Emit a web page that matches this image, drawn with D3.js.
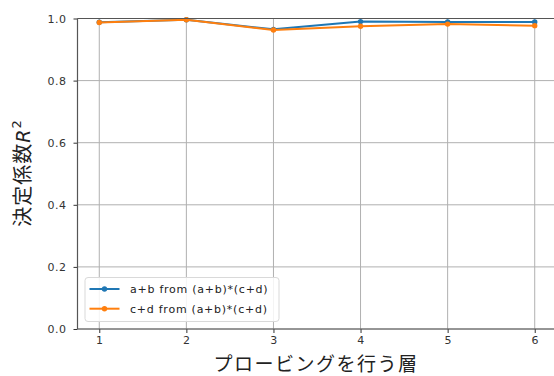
<!DOCTYPE html>
<html>
<head>
<meta charset="utf-8">
<script src="https://cdn.jsdelivr.net/npm/d3@7"></script>
<style>
  html, body { margin: 0; padding: 0; background: #fff; }
  svg { display: block; }
</style>
</head>
<body>
<svg id="chart" width="554" height="376"></svg>
<script>
// Probing layers and R^2 scores per target
const layers = [1, 2, 3, 4, 5, 6];
const seriesAB = [0.988, 0.996, 0.965, 0.990, 0.989, 0.989];
const seriesCD = [0.987, 0.996, 0.963, 0.975, 0.982, 0.977];
const seriesNames = ["a+b from (a+b)*(c+d)", "c+d from (a+b)*(c+d)"];
const seriesColors = ["#1f77b4", "#ff7f0e"];
const yTicks = [0.0, 0.2, 0.4, 0.6, 0.8, 1.0];
const xLabel = "プロービングを行う層";
const yLabel = "決定係数";

const svg = d3.select("#chart");
const margin = { left: 77.5, top: 18.5, bottom: 329 };
const plotRight = 556.5;

const x = d3.scaleLinear().domain([0.75, 6.25]).range([margin.left, plotRight]);
const y = d3.scaleLinear().domain([0, 1]).range([margin.bottom, margin.top]);

const tickFont = "DejaVu Sans, sans-serif";
const cjkFont = "'Noto Sans CJK JP', sans-serif";

// grid
const g = svg.append("g");
g.selectAll("line.vgrid").data(layers).enter().append("line")
  .attr("x1", d => x(d)).attr("x2", d => x(d))
  .attr("y1", margin.top).attr("y2", margin.bottom)
  .attr("stroke", "#b0b0b0").attr("stroke-width", 1);
g.selectAll("line.hgrid").data(yTicks).enter().append("line")
  .attr("x1", margin.left).attr("x2", plotRight)
  .attr("y1", d => y(d)).attr("y2", d => y(d))
  .attr("stroke", "#b0b0b0").attr("stroke-width", 1);

// series
const data = [seriesAB, seriesCD];
const line = d3.line().x((d, i) => x(layers[i])).y(d => y(d));
data.forEach((vals, k) => {
  svg.append("path").datum(vals)
    .attr("d", line)
    .attr("fill", "none")
    .attr("stroke", seriesColors[k])
    .attr("stroke-width", 2)
    .attr("stroke-linejoin", "round");
  svg.selectAll(null).data(vals).enter().append("circle")
    .attr("cx", (d, i) => x(layers[i]))
    .attr("cy", d => y(d))
    .attr("r", 2.7)
    .attr("fill", seriesColors[k]);
});

// axes
const xAxis = d3.axisBottom(x).tickValues(layers).tickFormat(d3.format("d")).tickSize(4).tickPadding(3.5);
const yAxis = d3.axisLeft(y).tickValues(yTicks).tickFormat(d3.format(".1f")).tickSize(4).tickPadding(7);

const gx = svg.append("g").attr("transform", `translate(0,${margin.bottom})`).call(xAxis);
const gy = svg.append("g").attr("transform", `translate(${margin.left},0)`).call(yAxis);
[gx, gy].forEach(a => {
  a.select(".domain").remove();
  a.selectAll(".tick line").attr("stroke", "#333").attr("stroke-width", 1);
  a.selectAll(".tick text").attr("font-family", tickFont).attr("font-size", 11)
    .attr("letter-spacing", 0.5).attr("fill", "#333");
});

// spines (left, bottom, top)
svg.append("line").attr("x1", margin.left).attr("x2", margin.left)
  .attr("y1", margin.top).attr("y2", margin.bottom).attr("stroke", "#555").attr("stroke-width", 1.2);
svg.append("line").attr("x1", margin.left).attr("x2", plotRight)
  .attr("y1", margin.bottom).attr("y2", margin.bottom).attr("stroke", "#555").attr("stroke-width", 1.2);
svg.append("line").attr("x1", margin.left).attr("x2", plotRight)
  .attr("y1", margin.top).attr("y2", margin.top).attr("stroke", "#555").attr("stroke-width", 1.2);

// axis labels
svg.append("text")
  .attr("x", 316).attr("y", 370.5)
  .attr("text-anchor", "middle")
  .attr("font-family", cjkFont).attr("font-size", 19).attr("letter-spacing", 1.5)
  .attr("fill", "#222")
  .text(xLabel);

const yl = svg.append("text")
  .attr("transform", `translate(30,173) rotate(-90)`)
  .attr("text-anchor", "middle")
  .attr("font-family", cjkFont).attr("font-size", 20).attr("letter-spacing", 1)
  .attr("fill", "#222");
yl.append("tspan").text(yLabel);
yl.append("tspan").attr("font-family", "DejaVu Sans, sans-serif").attr("font-style", "italic").attr("font-size", 19).text("R");
yl.append("tspan").attr("font-family", "DejaVu Sans, sans-serif").attr("font-size", 13).attr("dy", -9).text("2");

// legend
const lg = svg.append("g");
lg.append("rect").attr("x", 85).attr("y", 277.5).attr("width", 194).attr("height", 44)
  .attr("rx", 3).attr("fill", "#fff").attr("fill-opacity", 0.85)
  .attr("stroke", "#d9d9d9").attr("stroke-width", 1);
seriesNames.forEach((name, k) => {
  const yy = 289 + k * 19.7;
  lg.append("line").attr("x1", 89.5).attr("x2", 119.5).attr("y1", yy).attr("y2", yy)
    .attr("stroke", seriesColors[k]).attr("stroke-width", 2);
  lg.append("circle").attr("cx", 104.5).attr("cy", yy).attr("r", 2.7).attr("fill", seriesColors[k]);
  lg.append("text").attr("x", 130).attr("y", yy + 4)
    .attr("font-family", tickFont).attr("font-size", 11).attr("letter-spacing", 0.75)
    .attr("fill", "#222").text(name);
});
</script>
</body>
</html>
